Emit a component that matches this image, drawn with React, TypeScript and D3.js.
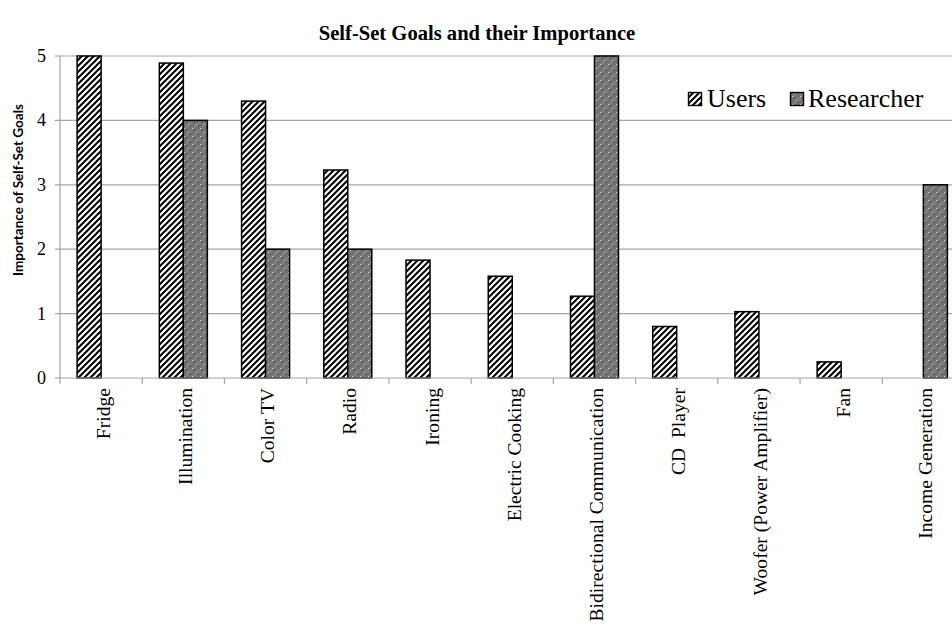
import React from "react";
import * as d3 from "d3";

const categories = [
  "Fridge",
  "Illumination",
  "Color TV",
  "Radio",
  "Ironing",
  "Electric Cooking",
  "Bidirectional Communication",
  "CD  Player",
  "Woofer (Power Amplifier)",
  "Fan",
  "Income Generation",
];
const usersValues: (number | null)[] = [5.0, 4.89, 4.3, 3.23, 1.83, 1.58, 1.27, 0.8, 1.03, 0.25, null];
const researcherValues: (number | null)[] = [null, 4.0, 2.0, 2.0, null, null, 5.0, null, null, null, 3.0];
const seriesNames = ["Users", "Researcher"];
const yTicks = [0, 1, 2, 3, 4, 5];

const W = 952;
const H = 628;
const left = 60;
const right = 964.5;
const top = 56;
const bottom = 378;

const serif = "'Liberation Serif', 'Times New Roman', serif";

export default function App() {
  const x = d3.scaleBand<string>().domain(categories).range([left, right]).paddingInner(0).paddingOuter(0);
  const xs = d3
    .scaleBand<string>()
    .domain(seriesNames)
    .range([0, x.step()])
    .paddingInner(0)
    .paddingOuter(0.7125);
  const y = d3.scaleLinear().domain([0, 5]).range([bottom, top]);

  const series = [
    { name: "Users", values: usersValues, fill: "url(#hatch)" },
    { name: "Researcher", values: researcherValues, fill: "url(#dots)" },
  ];

  return (
    <svg width={W} height={H} style={{ position: "absolute", left: 0, top: 0, background: "#fff" }}>
      <defs>
        <pattern id="hatch" patternUnits="userSpaceOnUse" width="6" height="6">
          <rect width="6" height="6" fill="#fff" />
          <path d="M-1,1 l2,-2 M0,6 l6,-6 M5,7 l2,-2" stroke="#000" strokeWidth="2" />
        </pattern>
        <pattern id="dots" patternUnits="userSpaceOnUse" width="8" height="8">
          <rect width="8" height="8" fill="#767676" />
          <rect x="0" y="0" width="1" height="1" fill="#d8d8d8" />
          <rect x="4" y="4" width="1" height="1" fill="#d8d8d8" />
          <rect x="2" y="2" width="1" height="1" fill="#444" />
          <rect x="6" y="6" width="1" height="1" fill="#444" />
          <rect x="2" y="6" width="1" height="1" fill="#b0b0b0" />
          <rect x="6" y="2" width="1" height="1" fill="#b0b0b0" />
          <rect x="1" y="5" width="1" height="1" fill="#555" />
          <rect x="5" y="1" width="1" height="1" fill="#555" />
        </pattern>
      </defs>

      <text x={477} y={40} textAnchor="middle" fontFamily={serif} fontWeight="bold" fontSize={20.6} fill="#000">
        Self-Set Goals and their Importance
      </text>

      {yTicks.map((t) => (
        <g key={t}>
          {t > 0 && <line x1={left} x2={W} y1={y(t)} y2={y(t)} stroke="#a6a6a6" strokeWidth={1.2} />}
          <line x1={left - 5} x2={left} y1={y(t)} y2={y(t)} stroke="#a6a6a6" strokeWidth={1.2} />
          <text x={left - 14} y={y(t) + 6} textAnchor="end" fontFamily={serif} fontSize={18} fill="#000">
            {t}
          </text>
        </g>
      ))}

      <text
        transform={`translate(23,190) rotate(-90)`}
        textAnchor="middle"
        fontFamily="Lato, 'Open Sans', sans-serif"
        fontWeight="bold"
        fontSize={13.5}
        textLength={172}
        lengthAdjust="spacingAndGlyphs"
        fill="#000"
      >
        Importance of Self-Set Goals
      </text>

      {series.map((s) =>
        categories.map((c, i) => {
          const v = s.values[i];
          if (v == null) return null;
          const bx = (x(c) ?? 0) + (xs(s.name) ?? 0);
          return (
            <rect
              key={s.name + c}
              x={bx}
              y={y(v)}
              width={xs.bandwidth()}
              height={y(0) - y(v)}
              fill={s.fill}
              stroke="#000"
              strokeWidth={1.5}
            />
          );
        })
      )}

      <line x1={left} x2={left} y1={top} y2={bottom} stroke="#a6a6a6" strokeWidth={1.2} />
      <line x1={left} x2={W} y1={bottom} y2={bottom} stroke="#a6a6a6" strokeWidth={1.2} />
      {categories.map((c, i) => (
        <line key={"t" + c} x1={left + i * x.step()} x2={left + i * x.step()} y1={bottom} y2={bottom + 6} stroke="#a6a6a6" strokeWidth={1.2} />
      ))}
      <line x1={right} x2={right} y1={bottom} y2={bottom + 6} stroke="#a6a6a6" strokeWidth={1.2} />

      {categories.map((c) => (
        <text
          key={"l" + c}
          transform={`translate(${(x(c) ?? 0) + x.bandwidth() / 2 + 8.5},${bottom + 10}) rotate(-90)`}
          textAnchor="end"
          fontFamily={serif}
          fontSize={19.6}
          fill="#000"
          style={{ whiteSpace: "pre" }}
        >
          {c}
        </text>
      ))}

      <g>
        <rect x={688.5} y={92.5} width={13} height={13} fill="url(#hatch)" stroke="#000" strokeWidth={1.4} />
        <text x={707} y={106.5} fontFamily={serif} fontSize={26} fill="#000">
          {seriesNames[0]}
        </text>
        <rect x={790.5} y={92.5} width={13} height={13} fill="url(#dots)" stroke="#000" strokeWidth={1.4} />
        <text x={808} y={106.5} fontFamily={serif} fontSize={26} fill="#000">
          {seriesNames[1]}
        </text>
      </g>
    </svg>
  );
}
